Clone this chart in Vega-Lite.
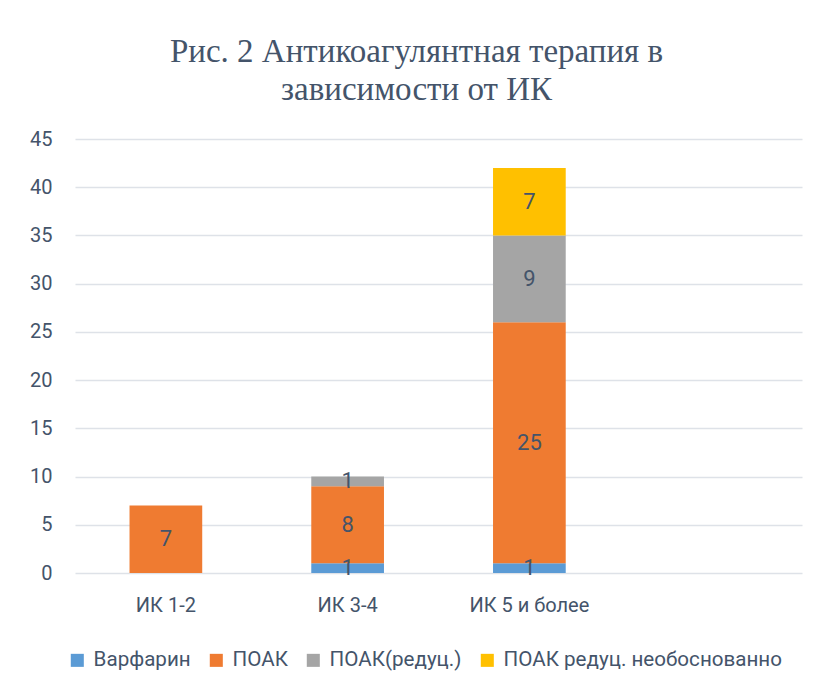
{
  "$schema": "https://vega.github.io/schema/vega-lite/v6.json",
  "width": 727,
  "height": 434,
  "autosize": {"type": "none"},
  "padding": {"left": 75, "top": 139, "right": 14, "bottom": 116},
  "background": "white",
  "config": {"view": {"stroke": null}, "font": "Roboto"},
  "title": {
    "text": ["Рис. 2 Антикоагулянтная терапия в", "зависимости от ИК"],
    "font": "Liberation Serif",
    "fontSize": 33,
    "fontWeight": "normal",
    "color": "#44546A",
    "lineHeight": 38,
    "anchor": "middle",
    "dx": -22,
    "offset": 22
  },
  "data": {
    "values": [
      {"group": "ИК 1-2", "type": "ПОАК", "value": 7, "order": 2},
      {"group": "ИК 3-4", "type": "Варфарин", "value": 1, "order": 1},
      {"group": "ИК 3-4", "type": "ПОАК", "value": 8, "order": 2},
      {"group": "ИК 3-4", "type": "ПОАК(редуц.)", "value": 1, "order": 3},
      {"group": "ИК 5 и более", "type": "Варфарин", "value": 1, "order": 1},
      {"group": "ИК 5 и более", "type": "ПОАК", "value": 25, "order": 2},
      {"group": "ИК 5 и более", "type": "ПОАК(редуц.)", "value": 9, "order": 3},
      {"group": "ИК 5 и более", "type": "ПОАК редуц. необоснованно", "value": 7, "order": 4}
    ]
  },
  "transform": [
    {"stack": "value", "groupby": ["group"], "sort": [{"field": "order"}], "as": ["y0", "y1"]},
    {"calculate": "(datum.y0 + datum.y1) / 2", "as": "ymid"}
  ],
  "encoding": {
    "x": {
      "field": "group",
      "type": "nominal",
      "sort": null,
      "scale": {"domain": ["ИК 1-2", "ИК 3-4", "ИК 5 и более", ""], "paddingInner": 0.6, "paddingOuter": 0.3},
      "axis": {
        "title": null,
        "domain": false,
        "ticks": false,
        "labelAngle": 0,
        "labelFontSize": 20,
        "labelColor": "#44546A",
        "labelPadding": 22,
        "labelFont": "Roboto"
      }
    }
  },
  "layer": [
    {
      "mark": {"type": "bar"},
      "encoding": {
        "y": {
          "field": "y0",
          "type": "quantitative",
          "scale": {"domain": [0, 45]},
          "axis": {
            "title": null,
            "values": [0, 5, 10, 15, 20, 25, 30, 35, 40, 45],
            "domain": false,
            "ticks": false,
            "labelFontSize": 20,
            "labelColor": "#44546A",
            "labelPadding": 23,
            "labelFont": "Roboto",
            "gridColor": "#DEE2E8",
            "gridWidth": 1.5
          }
        },
        "y2": {"field": "y1"},
        "color": {
          "field": "type",
          "type": "nominal",
          "scale": {
            "domain": ["Варфарин", "ПОАК", "ПОАК(редуц.)", "ПОАК редуц. необоснованно"],
            "range": ["#5B9BD5", "#EF7B31", "#A5A5A5", "#FFC000"]
          },
          "legend": {
            "title": null,
            "orient": "none",
            "direction": "horizontal",
            "legendX": -8,
            "legendY": 511,
            "symbolType": "square",
            "symbolSize": 170,
            "symbolStrokeWidth": 0,
            "labelFontSize": 20.6,
            "labelColor": "#44546A",
            "labelFont": "Roboto",
            "labelLimit": 400,
            "labelOffset": 6,
            "columnPadding": 15,
            "symbolOffset": 0
          }
        }
      }
    },
    {
      "mark": {"type": "text", "fontSize": 22, "color": "#44546A", "font": "Roboto", "baseline": "middle"},
      "encoding": {
        "y": {"field": "ymid", "type": "quantitative"},
        "text": {"field": "value", "type": "quantitative"}
      }
    }
  ]
}
